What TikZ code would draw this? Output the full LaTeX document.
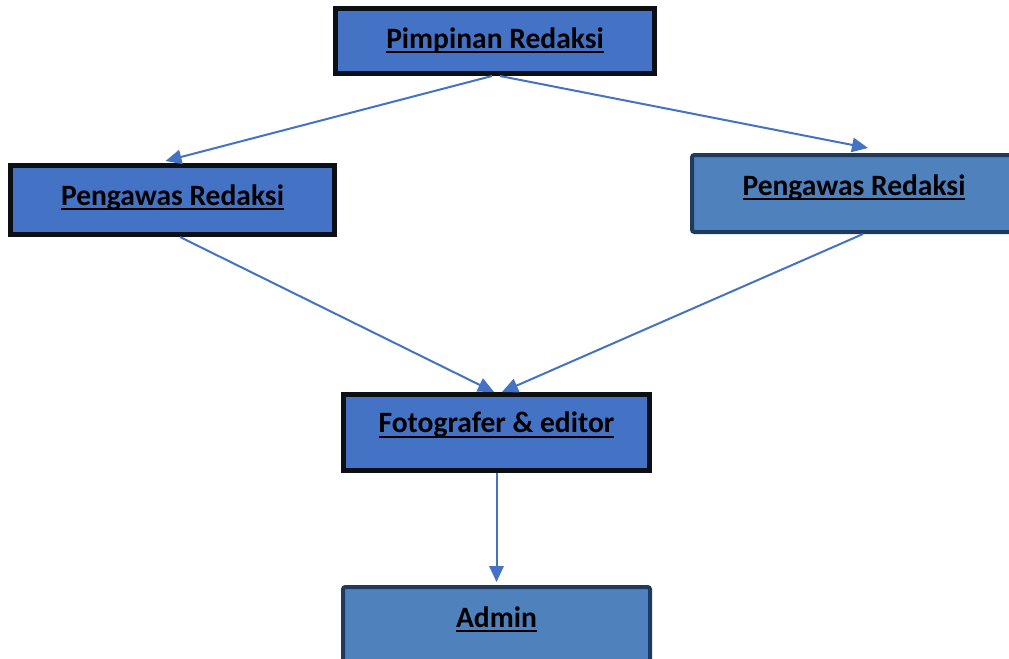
\documentclass[tikz,border=0pt]{standalone}
\usepackage{fontspec}
\setmainfont{Carlito}
\usetikzlibrary{arrows.meta,calc}
\definecolor{boxblue}{HTML}{4472C4}
\definecolor{boxlight}{HTML}{4F81BD}
\definecolor{boxnavy}{HTML}{1F3A5C}
\definecolor{boxdark}{HTML}{0C0F14}
\newcommand{\ulx}[1]{\setbox0\hbox{#1}\rlap{\rule[-0.125cm]{\wd0}{0.05cm}}\box0}
\tikzset{
  darkbox/.style={draw=boxdark,fill=boxblue,line width=0.125cm,text height=0.42cm,text depth=0.14cm,font=\bfseries\fontsize{21}{25}\selectfont},
  lightbox/.style={draw=boxnavy,fill=boxlight,line width=0.1cm,rounded corners=0.06cm,text height=0.42cm,text depth=0.14cm,font=\bfseries\fontsize{21}{25}\selectfont},
  link/.style={draw=boxblue,line width=0.05cm,-{Triangle[length=0.4cm,width=0.36cm]}}
}

\begin{document}
\begin{tikzpicture}[x=0.025cm,y=-0.025cm]
\useasboundingbox(0,0)rectangle(1009,659);
% boxes
\node[darkbox,text depth=0.07cm,minimum width=319*0.025cm,minimum height=65*0.025cm](pim)at(495,41){\ulx{Pimpinan Redaksi}};
\node[darkbox,text depth=0.17cm,minimum width=324*0.025cm,minimum height=69*0.025cm](pwl)at(172.5,200){\ulx{Pengawas Redaksi}};
\node[lightbox,text depth=0.34cm,minimum width=324*0.025cm,minimum height=77*0.025cm](pwr)at(854,193.5){\ulx{Pengawas Redaksi}};
\node[darkbox,text depth=0.42cm,minimum width=306*0.025cm,minimum height=76*0.025cm](foto)at(496.5,432.5){\ulx{Fotografer \& editor}};
\node[lightbox,text depth=0.32cm,minimum width=307*0.025cm,minimum height=76*0.025cm](adm)at(496.5,625){\ulx{Admin}};
% arrows
\draw[link]($(pim.south)+(-3,0)$)--($(pwl.north)+(-7,-2)$);\draw[link]($(pim.south)+(5,0)$)--($(pwr.north)+(14,-5)$);
\draw[link]($(pwl.south)+(7.5,0)$)--($(foto.north)+(-2.5,0)$);\draw[link]($(pwr.south)+(9,0)$)--($(foto.north)+(5.5,0)$);
\draw[link](foto.south)--($(adm.north)+(0,-3)$);
\end{tikzpicture}
\end{document}
